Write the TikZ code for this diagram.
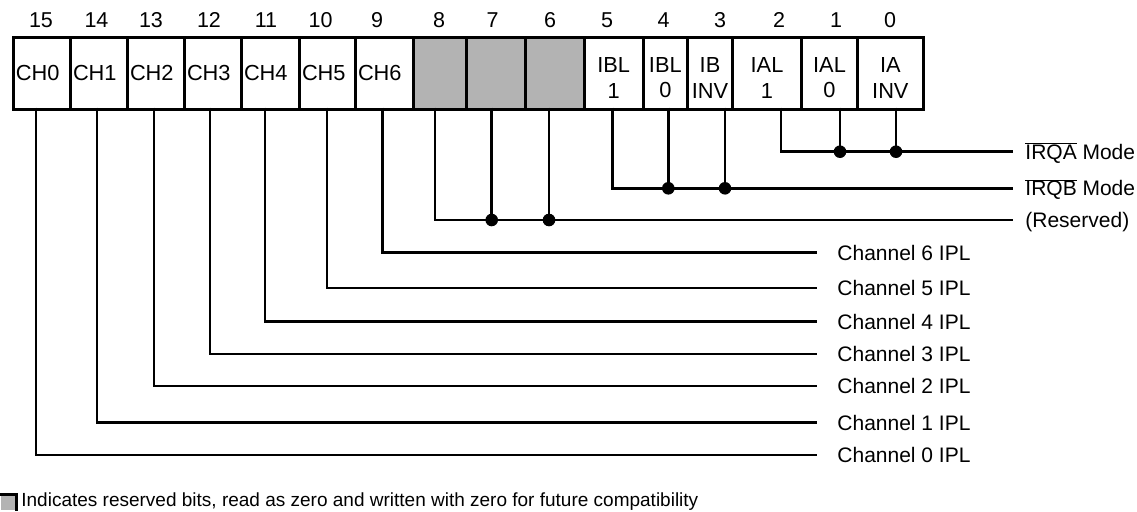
\documentclass[tikz,border=0pt]{standalone}
\usepackage{fontspec}
\setmainfont{Liberation Sans}
\definecolor{resgray}{RGB}{179,179,179}
\newcommand\fsz[2]{\fontsize{#1pt}{#2pt}\selectfont}
\begin{document}
\begin{tikzpicture}[x=1pt,y=-1pt,line width=2.8pt,
  cell/.style={draw,line width=3pt,anchor=north west,minimum height=71.5pt,inner sep=0pt,font=\fsz{21.8}{25.7}},
  chcell/.style={cell,align=left,inner xsep=2.5pt,text width=#1},
  bcell/.style={cell,align=center,minimum width=#1},
  rcell/.style={cell,fill=resgray,minimum width=#1},
  bitnum/.style={inner sep=0pt,font=\fsz{21.5}{25}},
  lab/.style={anchor=west,inner xsep=19pt,inner ysep=0pt,text height=15pt,text depth=0pt,font=\fsz{21}{24}},
  rlab/.style={anchor=west,inner xsep=11pt,inner ysep=0pt,text height=15pt,text depth=0pt,font=\fsz{21}{24}},
  dot/.style={fill=black}]
\useasboundingbox (0,0) rectangle (1137,511);
% register cells
\node[chcell=52pt] (b15) at (12,36) {CH0};
\node[chcell=52pt] (b14) at (69,36) {CH1};
\node[chcell=52pt] (b13) at (126,36) {CH2};
\node[chcell=52pt] (b12) at (183,36) {CH3};
\node[chcell=53pt] (b11) at (240,36) {CH4};
\node[chcell=51pt] (b10) at (298,36) {CH5};
\node[chcell=52.5pt] (b9) at (354,36) {CH6};
\node[rcell=53.5pt] (b8) at (411.5,36) {};
\node[rcell=59pt] (b7) at (465,36) {};
\node[rcell=58.7pt] (b6) at (524,36) {};
\node[bcell=59pt] (b5) at (582.7,36) {\rule{0pt}{24pt}IBL\\1};
\node[bcell=44.3pt] (b4) at (641.7,36) {\rule{0pt}{24pt}IBL\\0};
\node[bcell=45pt] (b3) at (686,36) {\rule{0pt}{24pt}IB\\INV};
\node[bcell=69pt] (b2) at (731,36) {\rule{0pt}{24pt}IAL\\1};
\node[bcell=56pt] (b1) at (800,36) {\rule{0pt}{24pt}IAL\\0};
\node[bcell=65.7pt] (b0) at (856,36) {\rule{0pt}{24pt}IA\\INV};
% bit numbers
\foreach \b/\x in {15/41,14/96.5,13/151,12/209,11/266,10/320.5,9/377,8/439,7/492.5,6/550,5/607,4/663.5,3/720,2/779,1/836,0/890}
  \node[bitnum] (n\b) at (\x,20) {\b};
% connector start points at the bottom of the register
\foreach \b/\x in {15/36,14/97,13/154,12/210,11/265,10/327,9/382.5,8/435,7/491.7,6/549,5/612.3,4/668.3,3/725,2/781,1/840,0/896}
  \coordinate (p\b) at (\x,107.5);
% right labels
\node[rlab] (irqa) at (1013,151.7) {$\overline{\mbox{IRQA}}$ Mode};
\node[rlab] (irqb) at (1013,188.3) {$\overline{\mbox{IRQB}}$ Mode};
\node[rlab] (res) at (1013,220) {(Reserved)};
\node[lab] (ch6) at (817,252.7) {Channel 6 IPL};
\node[lab] (ch5) at (817,288) {Channel 5 IPL};
\node[lab] (ch4) at (817,321.7) {Channel 4 IPL};
\node[lab] (ch3) at (817,354) {Channel 3 IPL};
\node[lab] (ch2) at (817,386) {Channel 2 IPL};
\node[lab] (ch1) at (817,422.7) {Channel 1 IPL};
\node[lab] (ch0) at (817,455) {Channel 0 IPL};
% connectors
\draw (p2) |- (irqa.west);
\draw (p1) -- (p1 |- irqa.west);
\draw (p0) -- (p0 |- irqa.west);
\fill[dot] (p1 |- irqa.west) circle (6.3pt);
\fill[dot] (p0 |- irqa.west) circle (6.3pt);
\draw (p5) |- (irqb.west);
\draw (p4) -- (p4 |- irqb.west);
\draw (p3) -- (p3 |- irqb.west);
\fill[dot] (p4 |- irqb.west) circle (6.3pt);
\fill[dot] (p3 |- irqb.west) circle (6.3pt);
\draw (p8) |- (res.west);
\draw (p7) -- (p7 |- res.west);
\draw (p6) -- (p6 |- res.west);
\fill[dot] (p7 |- res.west) circle (6.3pt);
\fill[dot] (p6 |- res.west) circle (6.3pt);
\draw (p9) |- (ch6.west);
\draw (p10) |- (ch5.west);
\draw (p11) |- (ch4.west);
\draw (p12) |- (ch3.west);
\draw (p13) |- (ch2.west);
\draw (p14) |- (ch1.west);
\draw (p15) |- (ch0.west);
% legend
\node[fill=resgray,anchor=south west,minimum size=15pt,inner sep=0pt] (key) at (0,511) {};
\draw[line width=2.5pt] ([yshift=-1.25pt]key.north west) -- ([xshift=-1.25pt,yshift=-1.25pt]key.north east) -- ([xshift=-1.25pt]key.south east);
\node[anchor=west,inner xsep=0pt,inner ysep=0pt,text height=13.6pt,text depth=0pt,font=\fsz{19}{23}] (legtxt) at (20,500) {Indicates reserved bits, read as zero and written with zero for future compatibility};
\end{tikzpicture}
\end{document}
